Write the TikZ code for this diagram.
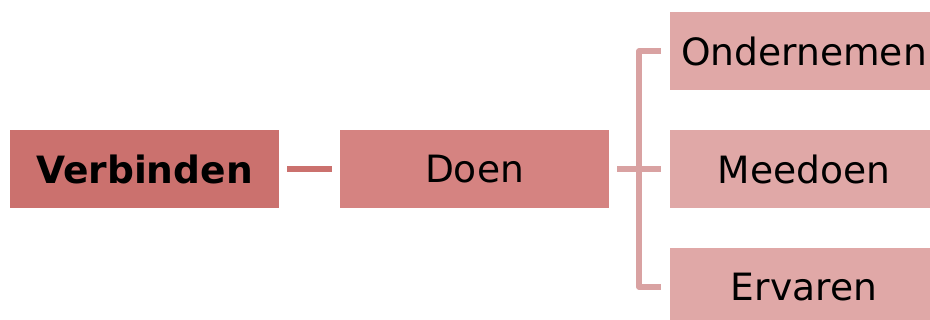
\documentclass[tikz,border=0pt]{standalone}
\usepackage{fontspec}
\setmainfont{DejaVu Sans}
\usetikzlibrary{positioning}

\definecolor{rootred}{HTML}{CB716E}
\definecolor{midred}{HTML}{D58381}
\definecolor{leafred}{HTML}{E0A8A7}
\definecolor{branchred}{HTML}{D9A2A2}

\tikzset{
  box/.style={inner sep=0pt, minimum width=201.75pt, minimum height=58.5pt,
    font=\fontsize{28.2}{34}\selectfont},
  branch/.style={line width=4pt, line join=round}
}

\begin{document}
\begin{tikzpicture}[x=0.75pt, y=-0.75pt]
\useasboundingbox (0,0) rectangle (930,320);

\node[box, fill=rootred, font=\fontsize{28.2}{34}\selectfont\bfseries] (verbinden) at (144.5,169) {Verbinden};
\node[box, fill=midred] (doen) at (474.5,169) {Doen};
\node[box, fill=leafred] (ondernemen) at (804,51) {Ondernemen};
\node[box, fill=leafred] (meedoen) at (804,169) {Meedoen};
\node[box, fill=leafred] (ervaren) at (804,287) {Ervaren};

\draw[branch, rootred, shorten <=6, shorten >=6] (verbinden) -- (doen);

\coordinate (split) at (639,169);
\draw[branch, branchred] ([xshift=6]doen.east) -- (split);
\draw[branch, branchred] ([xshift=-6]ondernemen.west) -| (split) |- ([xshift=-6]ervaren.west);
\draw[branch, branchred] (split) -- ([xshift=-6]meedoen.west);
\end{tikzpicture}
\end{document}
